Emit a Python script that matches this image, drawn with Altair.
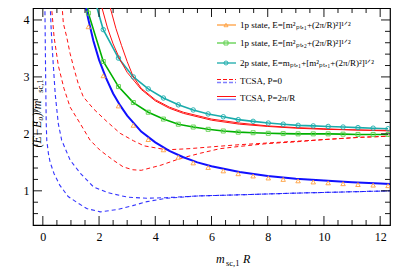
import altair as alt
import pandas as pd

# ---------------- data ----------------
# TCSA, P=2pi/R (blue solid, lowest level)
blue_sol_R = [1.45, 1.5, 1.6, 1.8, 2.0, 2.25, 2.5, 2.75, 3.0, 3.5, 4.0, 4.5, 5.0, 5.5, 6.0, 7.0, 8.0, 9.0, 10.0, 11.0, 12.0, 12.4]
blue_sol_E = [4.45, 4.31, 4.05, 3.63, 3.30, 2.98, 2.71, 2.50, 2.32, 2.04, 1.85, 1.70, 1.59, 1.50, 1.43, 1.33, 1.26, 1.21, 1.18, 1.15, 1.13, 1.12]

# TCSA, P=2pi/R (red solid, two levels)
redA_R = [2.0, 2.1, 2.3, 2.5, 2.75, 3.0, 3.5, 4.0, 4.5, 5.0, 6.0, 7.0, 8.0, 9.0, 10.0, 11.0, 12.4]
redA_E = [4.42, 4.22, 3.86, 3.58, 3.30, 3.08, 2.78, 2.58, 2.45, 2.36, 2.24, 2.17, 2.13, 2.10, 2.08, 2.07, 2.05]
redB_R = [2.35, 2.4, 2.6, 2.8, 3.0, 3.22, 3.5, 4.0, 4.5, 5.0, 6.0, 7.0, 8.0, 9.0, 10.0, 11.0, 12.4]
redB_E = [4.32, 4.21, 3.85, 3.55, 3.27, 3.00, 2.80, 2.60, 2.47, 2.38, 2.26, 2.19, 2.14, 2.11, 2.09, 2.07, 2.06]

# TCSA, P=0 (blue dashed, two levels)
blueA_R = [0.07, 0.1, 0.12, 0.14, 0.2, 0.26, 0.4, 0.6, 0.9, 1.2, 1.56, 2.04, 2.63, 3.2, 3.7, 4.4, 5.5, 7.0, 9.0, 12.4]
blueA_E = [4.40, 3.00, 2.20, 1.89, 1.65, 1.50, 1.30, 1.10, 0.90, 0.80, 0.69, 0.63, 0.67, 0.74, 0.81, 0.87, 0.91, 0.93, 0.96, 1.00]
blueB_R = [0.25, 0.3, 0.36, 0.44, 0.55, 0.67, 0.97, 1.33, 1.8, 2.3, 3.0, 3.7, 4.4, 5.5, 7.0, 9.0, 12.4]
blueB_E = [4.40, 3.80, 3.30, 2.70, 2.18, 1.89, 1.54, 1.31, 1.07, 0.97, 0.89, 0.87, 0.88, 0.91, 0.93, 0.96, 1.00]

# TCSA, P=0 (red dashed, two levels)
redC_R = [0.28, 0.4, 0.55, 0.75, 0.97, 1.33, 1.68, 2.04, 2.5, 2.86, 3.2, 3.5, 4.2, 4.9, 5.6, 6.3, 7.0, 8.0, 9.0, 10.0, 11.3, 12.4]
redC_E = [4.40, 3.70, 3.20, 2.80, 2.47, 2.18, 1.89, 1.71, 1.54, 1.42, 1.37, 1.36, 1.45, 1.57, 1.66, 1.74, 1.78, 1.83, 1.86, 1.90, 1.94, 1.96]
redD_R = [0.66, 0.73, 0.85, 0.97, 1.09, 1.26, 1.44, 1.8, 2.27, 2.75, 3.22, 3.6, 4.4, 5.2, 6.2, 7.0, 8.0, 9.0, 10.0, 11.3, 12.4]
redD_E = [4.40, 3.94, 3.70, 3.41, 3.18, 2.88, 2.65, 2.44, 2.22, 2.01, 1.88, 1.79, 1.72, 1.74, 1.78, 1.81, 1.84, 1.87, 1.90, 1.94, 1.96]

# analytic curves: marker positions
mark_R = [1.62, 2.15, 2.69, 3.22, 3.75, 4.29, 4.82, 5.35, 5.88, 6.42, 6.95, 7.48, 8.02, 8.55, 9.08, 9.62, 10.15, 10.68, 11.21, 11.75, 12.28]
p1_E = [3.88, 3.02, 2.49, 2.15, 1.90, 1.72, 1.59, 1.49, 1.41, 1.35, 1.30, 1.26, 1.225, 1.20, 1.175, 1.155, 1.14, 1.125, 1.11, 1.10, 1.09]
p2_E = [4.12, 3.27, 2.83, 2.55, 2.38, 2.26, 2.17, 2.12, 2.08, 2.05, 2.03, 2.02, 2.01, 2.005, 2.0, 2.0, 2.0, 1.995, 1.99, 1.99, 1.99]
p3_R = mark_R[1:]
p3_E = [3.83, 3.33, 3.00, 2.79, 2.63, 2.51, 2.42, 2.35, 2.30, 2.25, 2.22, 2.19, 2.17, 2.15, 2.14, 2.13, 2.12, 2.11, 2.10, 2.09]
# line extensions above the top of the frame
p2_top_R, p2_top_E = [1.55], [4.35]
p3_top_R, p3_top_E = [1.85, 1.95], [4.35, 4.17]

x_major = [0, 2, 4, 6, 8, 10, 12]
x_minor = [0.5, 1, 1.5, 2.5, 3, 3.5, 4.5, 5, 5.5, 6.5, 7, 7.5, 8.5, 9, 9.5, 10.5, 11, 11.5]
y_major = [1, 2, 3, 4]
y_minor = [0.6, 0.8, 1.2, 1.4, 1.6, 1.8, 2.2, 2.4, 2.6, 2.8, 3.2, 3.4, 3.6, 3.8]

legend_labels = [
    "1p state, E=[m²ₚₜ,₁+(2π/R)²]¹ᐟ²",
    "1p state, E=[m²ₚₜ,₂+(2π/R)²]¹ᐟ²",
    "2p state, E=mₚₜ,₁+[m²ₚₜ,₁+(2π/R)²]¹ᐟ²",
    "TCSA, P=0",
    "TCSA, P=2π/R",
]

# ---------------- chart ----------------
W, H = 357, 217
FONT = "Liberation Serif"
xs = alt.Scale(domain=[-0.35, 12.35], nice=False, zero=False)
ys = alt.Scale(domain=[0.4, 4.21], nice=False, zero=False)
X = alt.X("R:Q", scale=xs, axis=alt.Axis(values=x_major, ticks=False, domain=False, grid=False, title=None,
                                         labelFont=FONT, labelFontSize=12, labelPadding=6, labelColor="black", format="d"))
Y = alt.Y("E:Q", scale=ys, axis=alt.Axis(values=y_major, ticks=False, domain=False, grid=False, title=None,
                                         labelFont=FONT, labelFontSize=12, labelPadding=4, labelColor="black", format="d"))


def line(R, E, color, width=1.1, dash=None, opacity=1.0):
    kw = dict(clip=True, color=color, strokeWidth=width, opacity=opacity)
    if dash:
        kw["strokeDash"] = dash
    return alt.Chart(pd.DataFrame({"R": R, "E": E})).mark_line(**kw).encode(x=X, y=Y)


def points(R, E, shape, color, size=20):
    return alt.Chart(pd.DataFrame({"R": R, "E": E})).mark_point(
        shape=shape, filled=False, color=color, size=size, strokeWidth=0.9, clip=True, opacity=1
    ).encode(x=X, y=Y)


ORANGE = "#ffa040"
GREEN = "#00b000"
GREEN_M = "#5ccf4a"
CYAN = "#1aabab"
RED = "#ff1010"
BLUE = "#1010ff"

layers = []
# analytic lines
layers.append(line(p2_top_R + mark_R, p2_top_E + p2_E, GREEN, 1.6))
layers.append(line(p3_top_R + p3_R, p3_top_E + p3_E, CYAN, 1.6))
# TCSA
layers.append(line(blueA_R, blueA_E, BLUE, 1.1, [4, 3], 0.85))
layers.append(line(blueB_R, blueB_E, BLUE, 1.1, [4, 3], 0.85))
layers.append(line(redC_R, redC_E, RED, 1.0, [4, 3]))
layers.append(line(redD_R, redD_E, RED, 1.0, [4, 3]))
layers.append(line(redA_R, redA_E, RED, 1.0))
layers.append(line(redB_R, redB_E, RED, 1.0))
layers.append(line(blue_sol_R, blue_sol_E, BLUE, 2.0))
# markers
layers.append(points(mark_R, p1_E, "triangle-up", ORANGE, 20))
layers.append(points(mark_R, p2_E, "square", GREEN_M, 16))
layers.append(points(p3_R, p3_E, "circle", CYAN, 20))

# inward ticks on all four sides
MAJ, MIN = 9, 5
def xticks(vals, ln):
    d = pd.DataFrame({"R": vals})
    b = alt.Chart(d).mark_rule(color="black", strokeWidth=0.9).encode(x=X, y=alt.value(H), y2=alt.value(H - ln))
    t = alt.Chart(d).mark_rule(color="black", strokeWidth=0.9).encode(x=X, y=alt.value(0), y2=alt.value(ln))
    return [b, t]
def yticks(vals, ln):
    d = pd.DataFrame({"E": vals})
    l = alt.Chart(d).mark_rule(color="black", strokeWidth=0.9).encode(y=Y, x=alt.value(0), x2=alt.value(ln))
    r = alt.Chart(d).mark_rule(color="black", strokeWidth=0.9).encode(y=Y, x=alt.value(W), x2=alt.value(W - ln))
    return [l, r]
layers += xticks(x_major, MAJ) + xticks(x_minor, MIN) + yticks(y_major, MAJ) + yticks(y_minor, MIN)

# legend
one = pd.DataFrame({"a": [0]})
LX0, LX1, LXM, LXT = 184, 203, 193, 207
rows = [17, 35, 55, 73, 90]
leg_col = [ORANGE, GREEN_M, CYAN]
leg_mark = ["triangle-up", "square", "circle"]
for i in range(3):
    layers.append(alt.Chart(one).mark_rule(color=leg_col[i], strokeWidth=1.3).encode(
        x=alt.value(LX0), x2=alt.value(LX1), y=alt.value(rows[i])))
    layers.append(alt.Chart(one).mark_point(shape=leg_mark[i], filled=False, color=leg_col[i], size=16, strokeWidth=0.9, opacity=1).encode(
        x=alt.value(LXM), y=alt.value(rows[i])))
layers.append(alt.Chart(one).mark_rule(color=RED, strokeWidth=1.0, strokeDash=[4, 2]).encode(
    x=alt.value(LX0), x2=alt.value(LX1), y=alt.value(rows[3] - 1.5)))
layers.append(alt.Chart(one).mark_rule(color="#7f7fff", strokeWidth=1.4, strokeDash=[4, 2]).encode(
    x=alt.value(LX0), x2=alt.value(LX1), y=alt.value(rows[3] + 1.5)))
layers.append(alt.Chart(one).mark_rule(color=RED, strokeWidth=1.0).encode(
    x=alt.value(LX0), x2=alt.value(LX1), y=alt.value(rows[4] - 1.5)))
layers.append(alt.Chart(one).mark_rule(color="#7f7fff", strokeWidth=1.4).encode(
    x=alt.value(LX0), x2=alt.value(LX1), y=alt.value(rows[4] + 1.5)))
for i, lab in enumerate(legend_labels):
    layers.append(alt.Chart(one).mark_text(align="left", baseline="middle", font=FONT, fontSize=9, color="black").encode(
        x=alt.value(LXT), y=alt.value(rows[i]), text=alt.value(lab)))

# axis titles
layers.append(alt.Chart(one).mark_text(align="left", baseline="alphabetic", font=FONT, fontSize=12, fontStyle="italic", color="black").encode(
    x=alt.value(183), y=alt.value(255), text=alt.value("m")))
layers.append(alt.Chart(one).mark_text(align="left", baseline="alphabetic", font=FONT, fontSize=8.5, color="black").encode(
    x=alt.value(193), y=alt.value(258), text=alt.value("sc,1")))
layers.append(alt.Chart(one).mark_text(align="left", baseline="alphabetic", font=FONT, fontSize=12, fontStyle="italic", color="black").encode(
    x=alt.value(210), y=alt.value(255), text=alt.value("R")))
layers.append(alt.Chart(one).mark_text(align="center", baseline="middle", font=FONT, fontSize=12, fontStyle="italic", angle=270, color="black").encode(
    x=alt.value(4), y=alt.value(116), text=alt.value("(E−E₀)/m")))
layers.append(alt.Chart(one).mark_text(align="center", baseline="middle", font=FONT, fontSize=8.5, angle=270, color="black").encode(
    x=alt.value(7), y=alt.value(78), text=alt.value("sc,1")))

chart = alt.layer(*layers).properties(
    width=W, height=H,
    autosize=alt.AutoSizeParams(type="none"),
    padding={"left": 25, "top": 0, "right": 1, "bottom": 44},
).configure_view(stroke="black", strokeWidth=1.2)

chart.save("out.html", embed_options={"renderer": "svg", "actions": False})
